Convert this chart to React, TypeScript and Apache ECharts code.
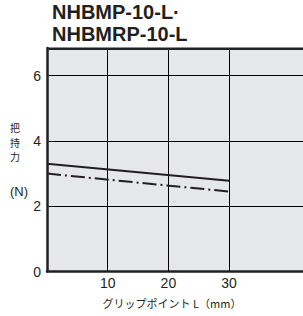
import React, { useEffect, useRef } from "react";
import * as echarts from "echarts";

const titleLines = ["NHBMP-10-L·", "NHBMRP-10-L"];
const xValues = [0, 30];
const solidValues = [3.3, 2.78];
const dashDotValues = [3.0, 2.45];
const xGridValues = [10, 20, 30];
const xLabelValues = [10, 20, 30];
const yAxisName = ["把", "持", "力"];
const yUnit = "(N)";
const xAxisName = "グリップポイント L（mm）";

const INK = "#231f20";
const GRIDLINE = "#000000";

const GL = 47, GT = 48, GW = 303.5, GH = 223.5;

export default function App() {
  const ref = useRef<HTMLDivElement>(null);
  useEffect(() => {
    if (!ref.current) return;
    const chart = echarts.init(ref.current, undefined, { renderer: "svg" });
    chart.setOption({
      animation: false,
      title: {
        text: titleLines.join("\n"),
        left: 47,
        top: -4,
        textStyle: {
          fontFamily: "Liberation Sans, Arial, sans-serif",
          fontSize: 20,
          fontWeight: "bold",
          lineHeight: 22,
          color: INK,
        },
      },
      grid: {
        left: GL,
        top: GT,
        width: GW,
        height: GH,
        show: false,
      },
      xAxis: {
        type: "value",
        min: 0,
        max: 50,
        interval: 10,
        axisLine: { show: true, onZero: false, lineStyle: { color: INK, width: 2.5 } },
        axisTick: { show: false },
        splitLine: { show: false },
        axisLabel: {
          margin: 4,
          fontSize: 14,
          fontFamily: "Liberation Sans, Arial, sans-serif",
          color: INK,
          formatter: (v: number) => (xLabelValues.includes(v) ? String(v) : ""),
        },
      },
      yAxis: {
        type: "value",
        min: 0,
        max: 6.85,
        interval: 2,
        axisLine: { show: true, lineStyle: { color: INK, width: 2.5 } },
        axisTick: { show: false },
        splitLine: { show: true, lineStyle: { color: GRIDLINE, width: 1, opacity: 1 } },
        axisLabel: {
          margin: 6,
          fontSize: 14,
          fontFamily: "Liberation Sans, Arial, sans-serif",
          color: INK,
          showMaxLabel: false,
        },
      },
      series: [
        {
          type: "line",
          data: xValues.map((x, i) => [x, solidValues[i]]),
          symbol: "none",
          lineStyle: { color: INK, width: 2 },
          z: 5,
          markLine: {
            silent: true,
            symbol: "none",
            label: { show: false },
            emphasis: { disabled: true },
            lineStyle: { color: GRIDLINE, width: 1, type: "solid", opacity: 1 },
            data: xGridValues.map((v) => ({ xAxis: v })),
            z: 1,
          },
        },
        {
          type: "line",
          data: xValues.map((x, i) => [x, dashDotValues[i]]),
          symbol: "none",
          lineStyle: { color: INK, width: 2, type: [14, 4, 2, 4] },
          z: 5,
        },
      ],
      graphic: [
        {
          type: "rect",
          z: -10,
          silent: true,
          shape: { x: GL, y: GT, width: GW, height: GH },
          style: { fill: "#e6e7e8" },
        },
        {
          type: "rect",
          z: 10,
          silent: true,
          shape: { x: GL, y: GT - 0.5, width: GW, height: 2.5 },
          style: { fill: "#222" },
        },
        ...yAxisName.map((ch, i) => ({
          type: "text",
          x: 15,
          y: 127.5 + i * 14.5,
          style: {
            text: ch,
            fontSize: 10,
            fontFamily: "Noto Sans CJK JP",
            fill: INK,
            align: "center",
            verticalAlign: "middle",
          },
        })),
        {
          type: "text",
          x: 19,
          y: 191,
          style: {
            text: yUnit,
            fontSize: 13,
            fontFamily: "Liberation Sans, Arial, sans-serif",
            fill: INK,
            align: "center",
            verticalAlign: "middle",
          },
        },
        {
          type: "text",
          x: 172,
          y: 303,
          style: {
            text: xAxisName,
            fontSize: 11,
            fontFamily: "Noto Sans CJK JP",
            fill: INK,
            align: "center",
            verticalAlign: "middle",
          },
        },
      ],
    });
    return () => chart.dispose();
  }, []);
  return (
    <div style={{ position: "fixed", left: 0, top: 0, width: 303, height: 316, overflow: "hidden", background: "#fff" }}>
      <div ref={ref} style={{ width: 360, height: 316 }} />
    </div>
  );
}
